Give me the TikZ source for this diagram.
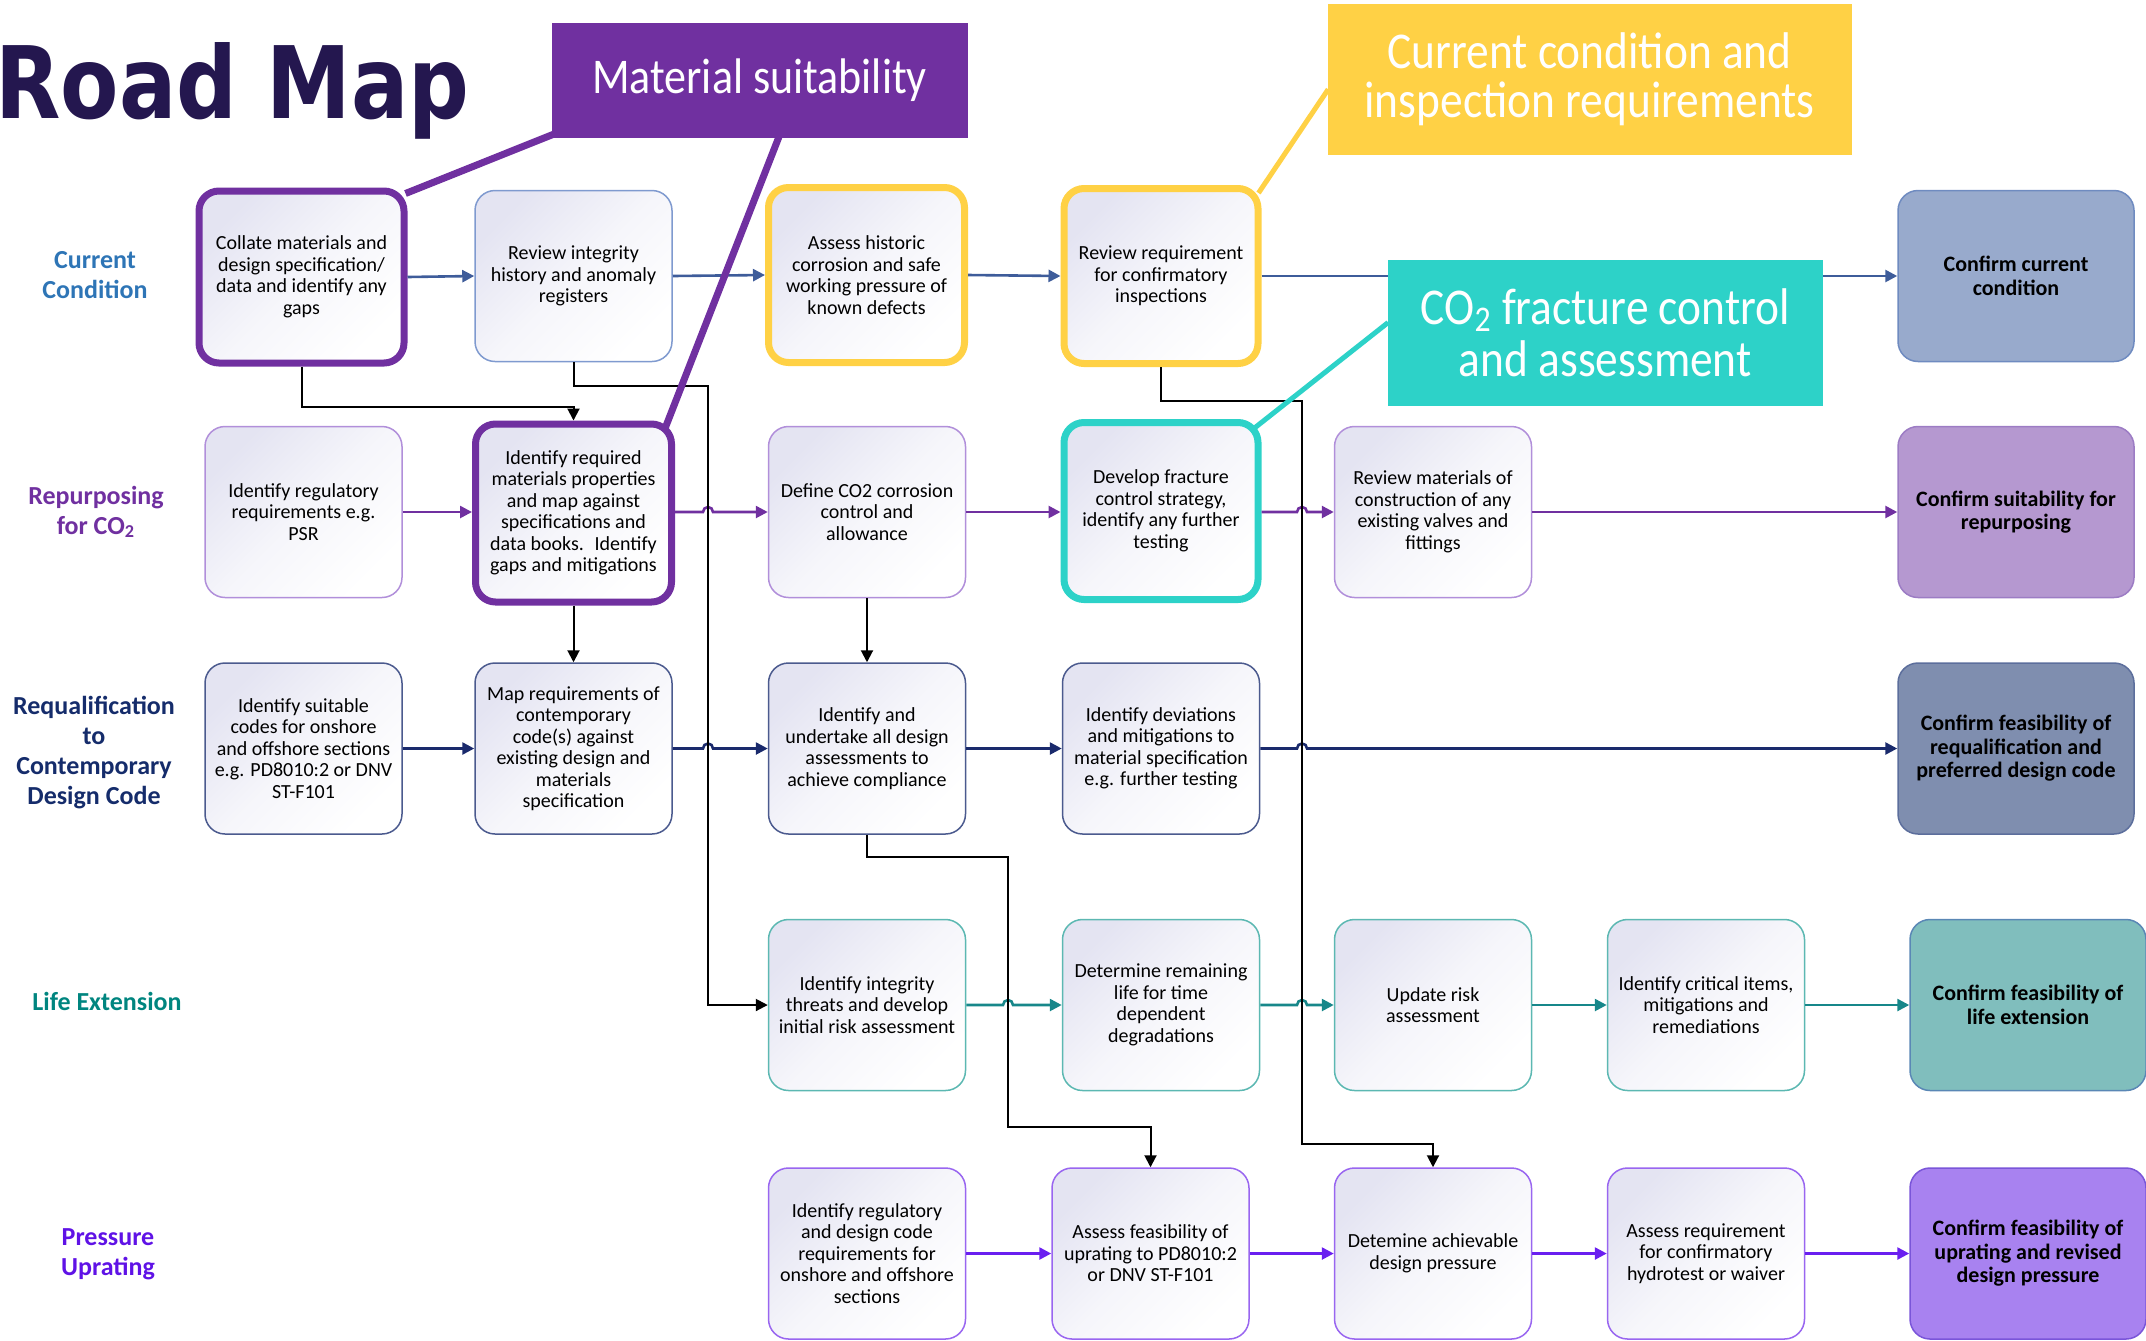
\documentclass[tikz,border=0pt]{standalone}
\usepackage{fontspec}
\setmainfont{Carlito}
\newfontfamily\titlefont[FakeStretch=0.85]{DejaVu Sans}
\newfontfamily\callfont[FakeStretch=0.88]{Carlito}
\usetikzlibrary{arrows.meta,calc}
\definecolor{titlec}{HTML}{24174F}
\definecolor{boxgrad}{HTML}{E4E4F2}
\definecolor{bd1}{HTML}{7F9ACF}
\definecolor{bd2}{HTML}{B18FDA}
\definecolor{bd3}{HTML}{4B5A8E}
\definecolor{bd4}{HTML}{5CB8B2}
\definecolor{bd5}{HTML}{9966F0}
\definecolor{ar1}{HTML}{3E5C9A}
\definecolor{ar2}{HTML}{7030A0}
\definecolor{ar3}{HTML}{1A2A6C}
\definecolor{ar4}{HTML}{17878A}
\definecolor{ar5}{HTML}{6A1FF0}
\definecolor{lab1}{HTML}{2E75B6}
\definecolor{lab2}{HTML}{7030A0}
\definecolor{lab3}{HTML}{152C6B}
\definecolor{lab4}{HTML}{00857F}
\definecolor{lab5}{HTML}{5F12E6}
\definecolor{msc}{HTML}{7030A0}
\definecolor{ccc}{HTML}{FFD145}
\definecolor{coc}{HTML}{2DD2C8}
\definecolor{ff1}{HTML}{98AACC}
\definecolor{fb1}{HTML}{6F8BC0}
\definecolor{ff2}{HTML}{B598D0}
\definecolor{fb2}{HTML}{9C7CC4}
\definecolor{ff3}{HTML}{7F8EAF}
\definecolor{fb3}{HTML}{5C6E9C}
\definecolor{ff4}{HTML}{80BEBD}
\definecolor{fb4}{HTML}{5A87B5}
\definecolor{ff5}{HTML}{A882F0}
\definecolor{fb5}{HTML}{7A55D9}
\begin{document}
\begin{tikzpicture}[x=0.5pt,y=-0.5pt,
  box/.style={draw=#1, line width=0.75pt, rounded corners=10pt,
    minimum width=98.5pt, minimum height=85.5pt, inner sep=1pt, align=center,
    top color=boxgrad, bottom color=white, middle color=boxgrad!35!white, shading angle=45,
    font=\fontsize{10}{10.75}\selectfont},
  tbox/.style={box=#1, line width=3.5pt},
  fbox/.style 2 args={draw=#2, fill=#1, line width=0.75pt, rounded corners=10pt,
    minimum width=118pt, minimum height=85.5pt, inner sep=1pt, align=center,
    font=\bfseries\fontsize{11}{11.75}\selectfont},
  arr/.style={draw=#1, line width=1.3pt, -{Triangle[length=6pt,width=6pt]}},
  blk/.style={draw=black, line width=1pt, -{Triangle[length=6pt,width=6pt]}},
  lab/.style={text=#1, align=center, inner sep=0pt, font=\bfseries\fontsize{13}{15}\selectfont},
  call/.style={fill=#1, inner sep=0pt, text=white, align=center}]
\useasboundingbox (0,0) rectangle (2146,1340);

% title
\node[anchor=base east, inner sep=0pt, text=titlec, font=\titlefont\bfseries\fontsize{50}{50}\selectfont] (title) at (470,118) {Road Map};

% row labels
\node[lab=lab1] (l1) at (95,275) {Current\\Condition};
\node[lab=lab2] (l2) at (96,512) {Repurposing\\for CO\textsubscript{2}};
\node[lab=lab3] (l3) at (94,752.5) {Requalification\\to\\Contemporary\\Design Code};
\node[lab=lab4] (l4) at (107,1001) {Life Extension};
\node[lab=lab5] (l5) at (108,1254.5) {Pressure\\Uprating};

% row 1
\node[tbox=msc, minimum width=102.5pt, minimum height=86pt] (a1) at (301.5,277) {Collate materials and\\design specification/\\data and identify any\\gaps};
\node[box=bd1] (b1) at (573.5,276) {Review integrity\\history and anomaly\\registers};
\node[tbox=ccc, minimum width=98pt, minimum height=87.5pt] (c1) at (866.5,275) {Assess historic\\corrosion and safe\\working pressure of\\known defects};
\node[tbox=ccc, minimum width=97pt, minimum height=87.5pt] (d1) at (1161,276) {Review requirement\\for confirmatory\\inspections};
\node[fbox={ff1}{fb1}] (f1) at (2016,276) {Confirm current\\condition};

% row 2
\node[box=bd2] (a2) at (303.5,512) {Identify regulatory\\requirements e.g.\\PSR};
\node[tbox=msc, minimum width=98pt, minimum height=89pt] (b2) at (573.5,513) {Identify required\\materials properties\\and map against\\specifications and\\data books.~ Identify\\gaps and mitigations};
\node[box=bd2] (c2) at (867,512) {Define CO2 corrosion\\control and\\allowance};
\node[tbox=coc, minimum width=97pt, minimum height=88.5pt] (d2) at (1161,511) {Develop fracture\\control strategy,\\identify any further\\testing};
\node[box=bd2] (e2) at (1433,512) {Review materials of\\construction of any\\existing valves and\\fittings};
\node[fbox={ff2}{fb2}] (f2) at (2016,512) {Confirm suitability for\\repurposing};

% row 3
\node[box=bd3] (a3) at (303.5,748.5) {Identify suitable\\codes for onshore\\and offshore sections\\e.g. PD8010:2 or DNV\\ST-F101};
\node[box=bd3] (b3) at (573.5,748.5) {Map requirements of\\contemporary\\code(s) against\\existing design and\\materials\\specification};
\node[box=bd3] (c3) at (867,748.5) {Identify and\\undertake all design\\assessments to\\achieve compliance};
\node[box=bd3] (d3) at (1161,748.5) {Identify deviations\\and mitigations to\\material specification\\e.g. further testing};
\node[fbox={ff3}{fb3}] (f3) at (2016,748.5) {Confirm feasibility of\\requalification and\\preferred design code};

% row 4
\node[box=bd4] (c4) at (867,1005) {Identify integrity\\threats and develop\\initial risk assessment};
\node[box=bd4] (d4) at (1161,1005) {Determine remaining\\life for time\\dependent\\degradations};
\node[box=bd4] (e4) at (1433,1005) {Update risk\\assessment};
\node[box=bd4] (f4) at (1706,1005) {Identify critical items,\\mitigations and\\remediations};
\node[fbox={ff4}{fb4}] (g4) at (2028,1005) {Confirm feasibility of\\life extension};

% row 5
\node[box=bd5] (c5) at (867,1253.5) {Identify regulatory\\and design code\\requirements for\\onshore and offshore\\sections};
\node[box=bd5] (d5) at (1150.5,1253.5) {Assess feasibility of\\uprating to PD8010:2\\or DNV ST-F101};
\node[box=bd5] (e5) at (1433,1253.5) {Detemine achievable\\design pressure};
\node[box=bd5] (f5) at (1706,1253.5) {Assess requirement\\for confirmatory\\hydrotest or waiver};
\node[fbox={ff5}{fb5}] (g5) at (2028,1253.5) {Confirm feasibility of\\uprating and revised\\design pressure};

% routing points of the black connectors
\coordinate (j1) at (573.5,407);
\coordinate (v1) at (708,386);
\coordinate (v2) at (1302,401);
\coordinate (v2b) at (1302,1144);
\coordinate (v3) at (1008,857);
\coordinate (v3b) at (1008,1127);

% row 1 arrows
\draw[arr=ar1] (a1.east) -- (b1.west);
\draw[arr=ar1] (b1.east) -- (c1.west);
\draw[arr=ar1] (c1.east) -- (d1.west);
\draw[arr=ar1] (d1.east) -- (f1.west);

% row 2 arrows
\draw[arr=ar2] (a2.east) -- (b2.west |- a2.east);
\draw[arr=ar2] (b2.east |- c2.west) -- ($(v1 |- c2.west)+(-5,0)$) arc[start angle=180,end angle=0,radius=2.5pt] -- (c2.west);
\draw[arr=ar2] (c2.east) -- (d2.west |- c2.east);
\draw[arr=ar2] (d2.east |- e2.west) -- ($(v2 |- e2.west)+(-5,0)$) arc[start angle=180,end angle=0,radius=2.5pt] -- (e2.west);
\draw[arr=ar2] (e2.east) -- (f2.west);

% row 3 arrows
\draw[arr=ar3] (a3.east) -- (b3.west);
\draw[arr=ar3] (b3.east) -- ($(v1 |- b3.east)+(-5,0)$) arc[start angle=180,end angle=0,radius=2.5pt] -- (c3.west);
\draw[arr=ar3] (c3.east) -- (d3.west);
\draw[arr=ar3] (d3.east) -- ($(v2 |- d3.east)+(-5,0)$) arc[start angle=180,end angle=0,radius=2.5pt] -- (f3.west);

% row 4 arrows
\draw[arr=ar4] (c4.east) -- ($(v3 |- c4.east)+(-5,0)$) arc[start angle=180,end angle=0,radius=2.5pt] -- (d4.west);
\draw[arr=ar4] (d4.east) -- ($(v2 |- d4.east)+(-5,0)$) arc[start angle=180,end angle=0,radius=2.5pt] -- (e4.west);
\draw[arr=ar4] (e4.east) -- (f4.west);
\draw[arr=ar4] (f4.east) -- (g4.west);

% row 5 arrows
\draw[arr=ar5] (c5.east) -- (d5.west);
\draw[arr=ar5] (d5.east) -- (e5.west);
\draw[arr=ar5] (e5.east) -- (f5.west);
\draw[arr=ar5] (f5.east) -- (g5.west);

% black connectors
\draw[blk] (a1.south) |- (j1) -- (b2.north);
\draw[blk] (b2.south) -- (b3.north);
\draw[blk] (c2.south) -- (c3.north);
\draw[blk] (b1.south) |- (v1) -- (v1 |- c4.west) -- (c4.west);
\draw[blk] (d1.south) |- (v2) -- (v2b) -| (e5.north);
\draw[blk] (c3.south) |- (v3) -- (v3b) -| (d5.north);

% callouts
\node[call=msc, minimum width=208pt, minimum height=57.5pt, font=\callfont\fontsize{25}{25}\selectfont] (ms) at (759.5,80.5) {Material suitability};
\node[call=ccc, minimum width=262pt, minimum height=75.25pt, font=\callfont\fontsize{25.8}{24.5}\selectfont] (cc) at (1589.6,79.25) {Current condition and\\inspection requirements};
\node[call=coc, minimum width=217.75pt, minimum height=73pt, font=\callfont\fontsize{25.8}{26}\selectfont] (co) at (1605.25,332.5) {CO\textsubscript{2} fracture control\\and assessment};

\draw[draw=msc, line width=3.5pt] ($(ms.south west)+(2,-4)$) -- ($(a1.north east)+(-2,6)$);
\draw[draw=msc, line width=3.5pt] ($(ms.south west)+(228,-2)$) -- ($(b2.north east)+(-10,8)$);
\draw[draw=ccc, line width=2.5pt] ($(cc.west)+(1,10)$) -- ($(d1.north east)+(-3,8)$);
\draw[draw=coc, line width=2.5pt] ($(co.west)+(1,-10)$) -- ($(d2.north east)+(-7,9)$);
\end{tikzpicture}
\end{document}
